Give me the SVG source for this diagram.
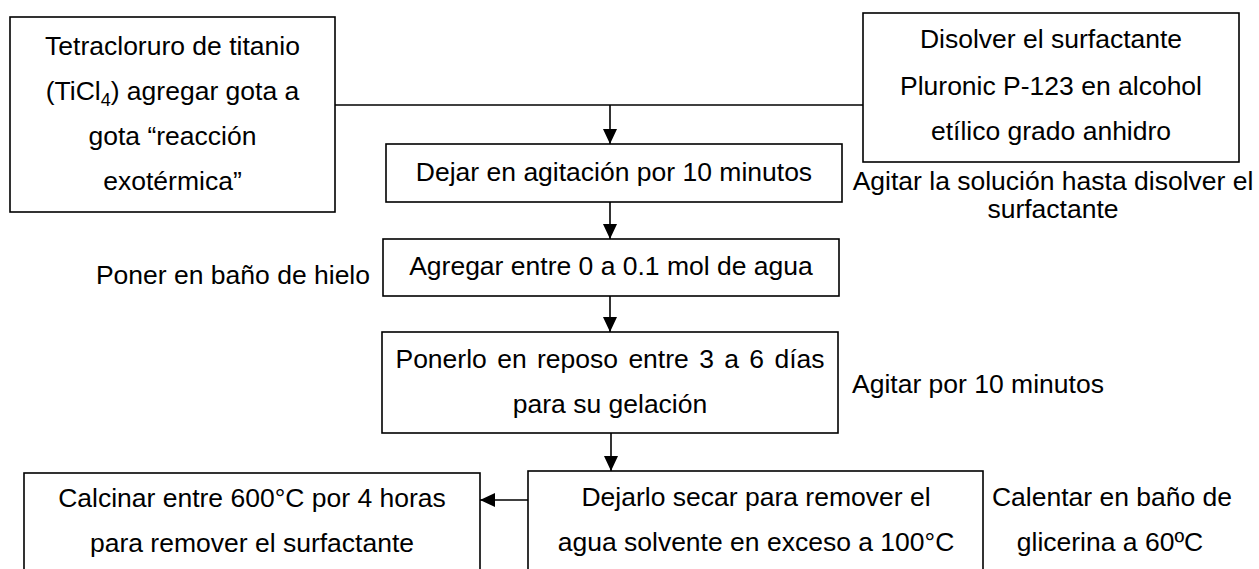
<svg xmlns="http://www.w3.org/2000/svg" width="1259" height="569" viewBox="0 0 1259 569">
<style>
  .box { fill: #ffffff; stroke: #000000; stroke-width: 1.6; }
  .t { font-family: "Liberation Sans", Arial, sans-serif; font-size: 26.5px; fill: #000000; }
  .c { text-anchor: middle; }
  .conn { fill: none; stroke: #000000; stroke-width: 1.6; }
</style>
<defs>
  <marker id="ah" markerWidth="15" markerHeight="14" refX="15" refY="7" orient="auto" markerUnits="userSpaceOnUse">
    <path d="M0,0 L15,7 L0,14 z" fill="#000000"/>
  </marker>
</defs>
<rect width="1259" height="569" fill="#ffffff"/>

<g id="connectors">
  <line class="conn" x1="335" y1="105" x2="863" y2="105"/>
  <line class="conn" x1="610" y1="105" x2="610" y2="144" marker-end="url(#ah)"/>
  <line class="conn" x1="610" y1="202" x2="610" y2="239" marker-end="url(#ah)"/>
  <line class="conn" x1="610" y1="296" x2="610" y2="332" marker-end="url(#ah)"/>
  <line class="conn" x1="611" y1="433" x2="611" y2="471" marker-end="url(#ah)"/>
  <line class="conn" x1="528" y1="500" x2="480" y2="500" marker-end="url(#ah)"/>
</g>

<g id="n-ticl4">
  <rect class="box" x="10" y="17" width="325" height="195"/>
  <text class="t c" x="172.5" y="55">Tetracloruro de titanio</text>
  <text class="t c" x="172.5" y="100">(TiCl<tspan font-size="18" dy="6">4</tspan><tspan dy="-6">) agregar gota a</tspan></text>
  <text class="t c" x="172.5" y="145">gota “reacción</text>
  <text class="t c" x="172.5" y="190">exotérmica”</text>
</g>

<g id="n-surfactante">
  <rect class="box" x="863" y="13" width="376" height="149"/>
  <text class="t c" x="1051" y="48">Disolver el surfactante</text>
  <text class="t c" x="1051" y="95">Pluronic P-123 en alcohol</text>
  <text class="t c" x="1051" y="140">etílico grado anhidro</text>
</g>

<g id="l-agitar-solucion">
  <text class="t c" x="1053" y="190">Agitar la solución hasta disolver el</text>
  <text class="t c" x="1053" y="218">surfactante</text>
</g>

<g id="n-agitacion">
  <rect class="box" x="386" y="144" width="456" height="58"/>
  <text class="t c" x="614" y="181">Dejar en agitación por 10 minutos</text>
</g>

<g id="l-hielo">
  <text class="t" x="370" y="284" text-anchor="end">Poner en baño de hielo</text>
</g>

<g id="n-agua">
  <rect class="box" x="383" y="239" width="456" height="57"/>
  <text class="t c" x="611" y="275">Agregar entre 0 a 0.1 mol de agua</text>
</g>

<g id="n-reposo">
  <rect class="box" x="382" y="332" width="456" height="101"/>
  <text class="t c" x="610" y="368" word-spacing="3">Ponerlo en reposo entre 3 a 6 días</text>
  <text class="t c" x="610" y="413">para su gelación</text>
</g>

<g id="l-agitar10">
  <text class="t" x="852" y="393">Agitar por 10 minutos</text>
</g>

<g id="n-secar">
  <rect class="box" x="528" y="471" width="455" height="110"/>
  <text class="t c" x="756" y="506">Dejarlo secar para remover el</text>
  <text class="t c" x="756" y="551">agua solvente en exceso a 100°C</text>
</g>

<g id="n-calcinar">
  <rect class="box" x="24" y="473" width="456" height="110"/>
  <text class="t c" x="252" y="507">Calcinar entre 600°C por 4 horas</text>
  <text class="t c" x="252" y="552">para remover el surfactante</text>
</g>

<g id="l-glicerina">
  <text class="t c" x="1112" y="506">Calentar en baño de</text>
  <text class="t c" x="1110" y="551">glicerina a 60ºC</text>
</g>
</svg>
